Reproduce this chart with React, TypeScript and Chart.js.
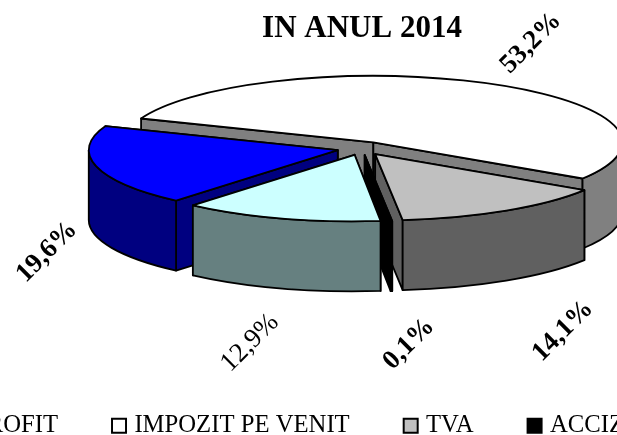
import React, { useEffect, useRef } from "react";
import { Chart, registerables } from "chart.js";

Chart.register(...registerables);

const categories = ["PROFIT", "IMPOZIT PE VENIT", "TVA", "ACCIZE", "ALTI"];
const shares = [19.6, 53.2, 14.1, 0.1, 12.9];
const topColors = ["#0000FF", "#FFFFFF", "#C0C0C0", "#000000", "#CCFFFF"];
const sideColors = ["#000080", "#808080", "#606060", "#000000", "#668080"];
const boldLabels = [true, true, true, true, false];
const labelCentres = [
  [47, 252],
  [531, 43],
  [563, 331],
  [409, 344],
  [250, 343],
];
const title = "IN ANUL 2014";

const CANVAS_W = 1000;
const CANVAS_H = 435;
const PAGE_LEFT = -138;
const RADIUS = 249;
const SQUISH = 0.267;
const DEPTH = 70;
const EXPLODE = 25;
const PIE_Y = 148.4;
const WALL_ORDER = [1, 0, 2, 3, 4];
const SERIF = "'Liberation Serif', serif";

function geom(el: any) {
  const mid = (el.startAngle + el.endAngle) / 2;
  const dx = Math.cos(mid) * EXPLODE;
  const dy = Math.sin(mid) * EXPLODE;
  return {
    dx,
    dy,
    x: el.x + dx,
    y: PIE_Y + dy * SQUISH,
    rx: el.outerRadius,
    ry: el.outerRadius * SQUISH,
    a0: el.startAngle,
    a1: el.endAngle,
  };
}

const pie3d = {
  id: "pie3d",
  beforeDatasetDraw(chart: any, args: any) {
    const ctx = chart.ctx;
    const els = args.meta.data;
    ctx.save();
    ctx.strokeStyle = "#000";
    ctx.lineWidth = 1.8;
    ctx.lineJoin = "round";
    for (const i of WALL_ORDER) {
      const g = geom(els[i]);
      ctx.fillStyle = sideColors[i];
      const ends = [g.a0, g.a1]
        .map((a) => ({ px: g.x + g.rx * Math.cos(a), py: g.y + g.ry * Math.sin(a) }))
        .sort((p, q) => p.py - q.py);
      for (const e of ends) {
        ctx.beginPath();
        ctx.moveTo(g.x, g.y);
        ctx.lineTo(e.px, e.py);
        ctx.lineTo(e.px, e.py + DEPTH);
        ctx.lineTo(g.x, g.y + DEPTH);
        ctx.closePath();
        ctx.fill();
        ctx.stroke();
      }
      // front-facing part of the rim
      for (const k of [0, 1]) {
        const from = Math.max(g.a0, k * 2 * Math.PI);
        const to = Math.min(g.a1, Math.PI + k * 2 * Math.PI);
        if (to <= from) continue;
        ctx.beginPath();
        ctx.ellipse(g.x, g.y, g.rx, g.ry, 0, from, to);
        ctx.ellipse(g.x, g.y + DEPTH, g.rx, g.ry, 0, to, from, true);
        ctx.closePath();
        ctx.fill();
        ctx.stroke();
      }
    }
    // top faces: the library's own arc elements, one at a time, flattened and pulled out
    for (const el of els) {
      const g = geom(el);
      ctx.save();
      ctx.translate(g.dx, PIE_Y + g.dy * SQUISH);
      ctx.scale(1, SQUISH);
      ctx.translate(0, -el.y);
      el.draw(ctx);
      ctx.restore();
    }
    for (const el of els) {
      const g = geom(el);
      ctx.beginPath();
      ctx.moveTo(g.x, g.y);
      ctx.ellipse(g.x, g.y, g.rx, g.ry, 0, g.a0, g.a1);
      ctx.closePath();
      ctx.stroke();
    }
    ctx.restore();
    return false;
  },
  afterDraw(chart: any) {
    const ctx = chart.ctx;
    ctx.save();
    ctx.fillStyle = "#000";
    ctx.textAlign = "center";
    ctx.textBaseline = "middle";
    shares.forEach((v, i) => {
      ctx.save();
      ctx.translate(labelCentres[i][0] - PAGE_LEFT, labelCentres[i][1]);
      ctx.rotate(-Math.PI / 4);
      ctx.font = `${boldLabels[i] ? "bold " : ""}27px ${SERIF}`;
      ctx.fillText(`${v.toFixed(1).replace(".", ",")}%`, 0, 0);
      ctx.restore();
    });
    ctx.restore();
  },
};

export default function App() {
  const ref = useRef<HTMLCanvasElement>(null);
  useEffect(() => {
    document.body.style.margin = "0";
    document.documentElement.style.overflow = "hidden";
    document.body.style.overflow = "hidden";
    const chart = new Chart(ref.current!, {
      type: "pie",
      data: {
        labels: categories,
        datasets: [
          {
            data: shares,
            backgroundColor: topColors,
            borderWidth: 0,
            clip: false,
          } as any,
        ],
      },
      options: {
        animation: false,
        responsive: false,
        rotation: 220.5,
        radius: RADIUS,
        layout: { padding: { bottom: -13 } },
        plugins: {
          tooltip: { enabled: false },
          title: {
            display: true,
            text: title,
            color: "#000",
            font: { family: SERIF, size: 31, weight: "bold" },
            padding: { top: 10, bottom: 0 },
          },
          legend: {
            position: "bottom",
            labels: {
              color: "#000",
              font: { family: SERIF, size: 24.7 },
              usePointStyle: true,
              pointStyle: "rect",
              boxWidth: 6,
              boxHeight: 14,
              padding: 58,
              generateLabels(c: any) {
                return Chart.overrides.pie.plugins.legend.labels
                  .generateLabels(c)
                  .map((l: any) => ({ ...l, pointStyle: "rect", strokeStyle: "#000", lineWidth: 2 }));
              },
            },
          },
        },
      } as any,
      plugins: [pie3d],
    });
    return () => chart.destroy();
  }, []);
  return (
    <canvas
      ref={ref}
      width={CANVAS_W}
      height={CANVAS_H}
      style={{ position: "absolute", left: PAGE_LEFT, top: 0, display: "block" }}
    />
  );
}
